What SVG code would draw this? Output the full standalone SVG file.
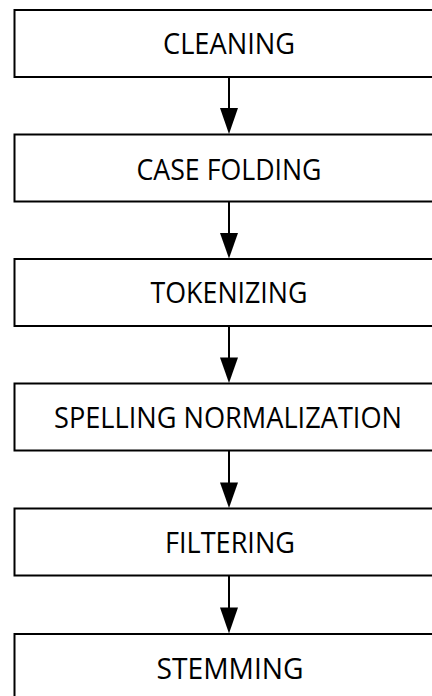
<svg xmlns="http://www.w3.org/2000/svg" width="432" height="696" viewBox="0 0 432 696">
  <style>
    .box { fill: #ffffff; stroke: #000000; stroke-width: 2; }
    .label { font-family: "Open Sans", "Liberation Sans", sans-serif; font-size: 29px; fill: #000000; text-anchor: middle; }
    .link { stroke: #000000; stroke-width: 2; fill: none; }
    .head { fill: #000000; }
  </style>
  <rect width="432" height="696" fill="#ffffff"/>

  <!-- connectors: vertical line plus filled arrowhead -->
  <g id="connectors">
    <line class="link" x1="229" y1="77" x2="229" y2="110"/>
    <polygon class="head" points="220,108 238,108 229,134"/>
    <line class="link" x1="229" y1="201.5" x2="229" y2="234"/>
    <polygon class="head" points="220,233 238,233 229,258.5"/>
    <line class="link" x1="229" y1="326" x2="229" y2="359"/>
    <polygon class="head" points="220,357.5 238,357.5 229,383"/>
    <line class="link" x1="229" y1="450.5" x2="229" y2="484"/>
    <polygon class="head" points="220,482.5 238,482.5 229,508"/>
    <line class="link" x1="229" y1="575.5" x2="229" y2="609"/>
    <polygon class="head" points="220,607.5 238,607.5 229,633.5"/>
  </g>

  <g id="cleaning">
    <rect class="box" x="14.5" y="10" width="430" height="67"/>
    <text class="label" x="229" y="53.5" textLength="132" lengthAdjust="spacingAndGlyphs">CLEANING</text>
  </g>
  <g id="case-folding">
    <rect class="box" x="14.5" y="134.5" width="430" height="67"/>
    <text class="label" x="229" y="179.5" textLength="185" lengthAdjust="spacingAndGlyphs">CASE FOLDING</text>
  </g>
  <g id="tokenizing">
    <rect class="box" x="14.5" y="259" width="430" height="67"/>
    <text class="label" x="229" y="303" textLength="157" lengthAdjust="spacingAndGlyphs">TOKENIZING</text>
  </g>
  <g id="spelling-normalization">
    <rect class="box" x="14.5" y="383.5" width="430" height="67"/>
    <text class="label" x="228" y="427.5" textLength="348" lengthAdjust="spacingAndGlyphs">SPELLING NORMALIZATION</text>
  </g>
  <g id="filtering">
    <rect class="box" x="14.5" y="508.5" width="430" height="67"/>
    <text class="label" x="230" y="552.5" textLength="130" lengthAdjust="spacingAndGlyphs">FILTERING</text>
  </g>
  <g id="stemming">
    <rect class="box" x="14.5" y="634" width="430" height="67"/>
    <text class="label" x="230" y="678.5" textLength="147" lengthAdjust="spacingAndGlyphs">STEMMING</text>
  </g>
</svg>
